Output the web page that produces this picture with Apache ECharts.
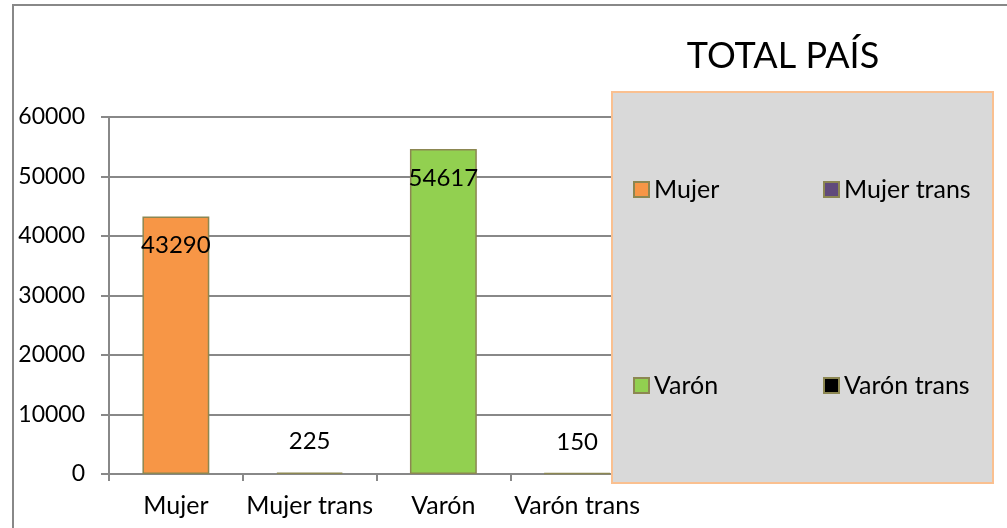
<!DOCTYPE html>
<html>
<head>
<meta charset="utf-8">
<script src="https://cdn.jsdelivr.net/npm/echarts@6/dist/echarts.min.js"></script>
<style>
  html, body { margin: 0; padding: 0; background: #fff; }
  #chart { width: 1007px; height: 528px; }
</style>
</head>
<body>
<div id="chart"></div>
<script>
var categories = ['Mujer', 'Mujer trans', 'Varón', 'Varón trans'];
var values = [43290, 225, 54617, 150];
var colors = ['#f79646', '#604a7b', '#92d050', '#000000'];
var yTicks = [0, 10000, 20000, 30000, 40000, 50000, 60000];

var myChart = echarts.init(document.getElementById('chart'));
var font = 'Lato, "Open Sans", sans-serif';

// una serie por categoria para que la leyenda muestre las cuatro
var series = categories.map(function (name, i) {
    return {
        name: name,
        type: 'bar',
        barWidth: '50%',
        barGap: '-100%',
        itemStyle: { color: colors[i], borderColor: '#8c8752', borderWidth: 1.5 },
        label: {
            show: true,
            position: values[i] > 5000 ? 'insideTop' : 'top',
            distance: values[i] > 5000 ? 17 : 19,
            color: '#000',
            fontFamily: font,
            fontSize: 24
        },
        data: categories.map(function (c, j) { return j === i ? values[i] : '-'; })
    };
});

// posiciones de la leyenda 2x2
var legendPos = [[633, 177], [823, 177], [633, 373], [823, 373]];
var legends = categories.map(function (name, i) {
    return {
        data: [name],
        icon: 'rect',
        left: legendPos[i][0],
        top: legendPos[i][1],
        padding: 0,
        itemWidth: 15,
        itemHeight: 15,
        itemGap: 6,
        selectedMode: false,
        z: 60,
        itemStyle: { borderColor: '#8c8752', borderWidth: 2 },
        textStyle: { color: '#000', fontFamily: font, fontSize: 25, padding: [0, 0, 0, 0] }
    };
});

var option = {
    animation: false,
    grid: { left: 109, top: 117, right: 363, bottom: 54 },
    legend: legends,
    xAxis: {
        type: 'category',
        data: categories,
        axisLine: { lineStyle: { color: '#888', width: 2 } },
        axisTick: { show: true, interval: 0, length: 7, lineStyle: { color: '#888', width: 2 } },
        axisLabel: { interval: 0, color: '#000', fontFamily: font, fontSize: 25, margin: 19 }
    },
    yAxis: {
        type: 'value',
        min: yTicks[0],
        max: yTicks[yTicks.length - 1],
        interval: 10000,
        axisLine: { show: true, lineStyle: { color: '#888', width: 2 } },
        axisTick: { show: true, length: 8, lineStyle: { color: '#888', width: 2 } },
        splitLine: { lineStyle: { color: '#888', width: 2 } },
        axisLabel: {
            color: '#000', fontFamily: font, fontSize: 23, margin: 24,
            formatter: function (v) { return String(v); }
        }
    },
    graphic: [
        {
            type: 'rect',
            z: -1,
            shape: { x: 13, y: 5, width: 1010, height: 540 },
            style: { fill: 'none', stroke: '#888', lineWidth: 2 }
        },
        {
            type: 'rect',
            z: 50,
            shape: { x: 612, y: 92, width: 381, height: 391 },
            style: { fill: '#d9d9d9', stroke: '#fac090', lineWidth: 2 }
        },
        {
            type: 'text',
            z: 50,
            x: 783,
            y: 56,
            style: {
                text: 'TOTAL PAÍS',
                fill: '#000',
                font: '36px ' + font,
                textAlign: 'center',
                textVerticalAlign: 'middle'
            }
        }
    ],
    series: series
};

myChart.setOption(option);
</script>
</body>
</html>
